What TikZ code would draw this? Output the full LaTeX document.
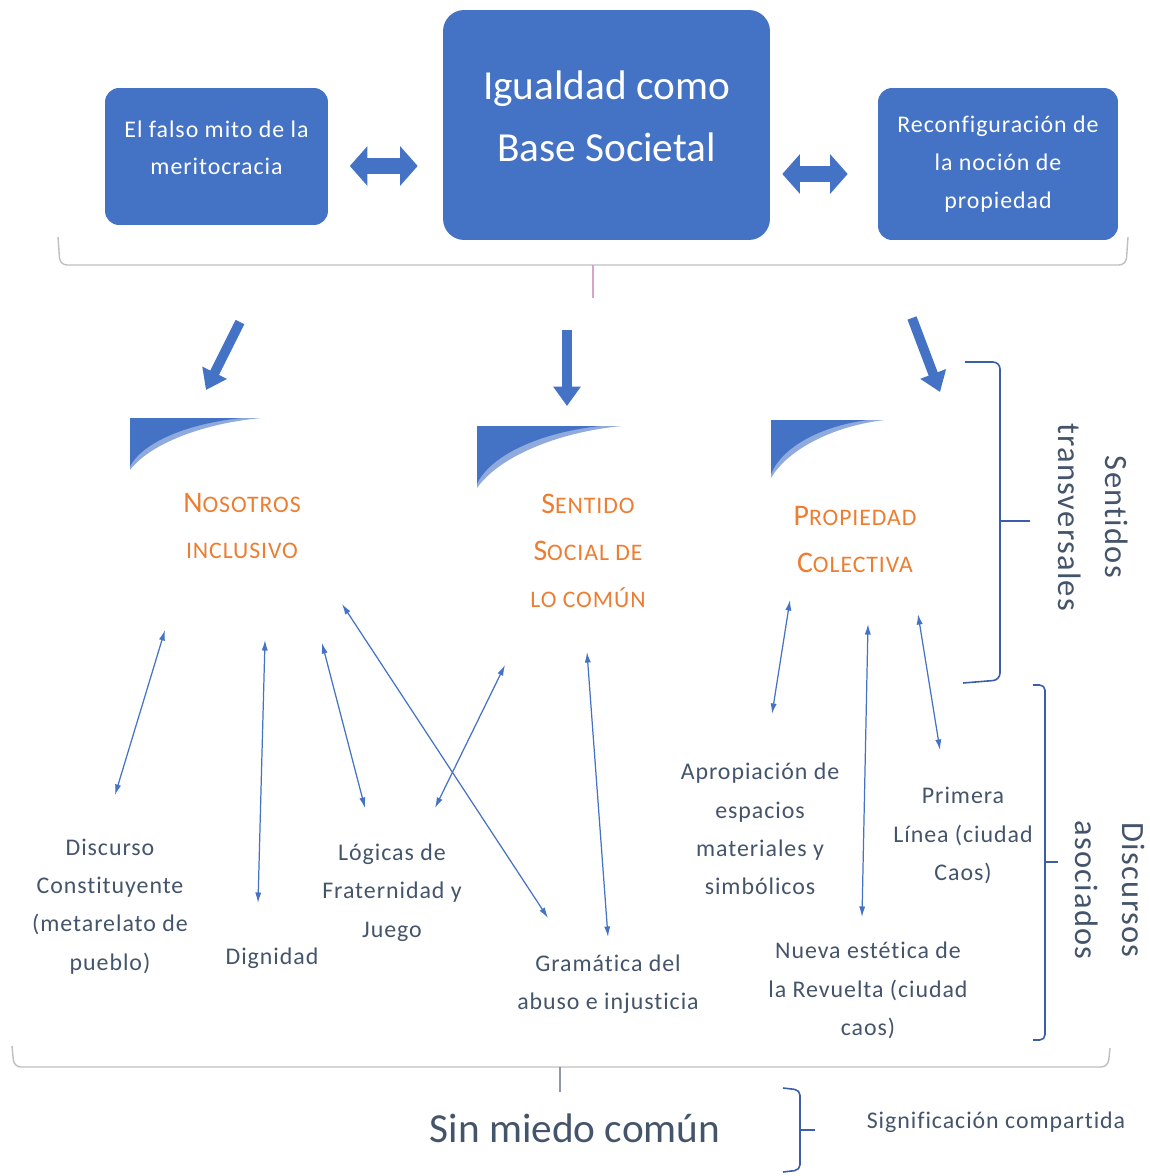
\documentclass[tikz,border=0pt]{standalone}
\usepackage{fontspec}
\setmainfont{Carlito}[LetterSpace=4, Ligatures=NoCommon]
\newfontfamily\plainfont{Carlito}[Ligatures=NoCommon]
\usetikzlibrary{arrows.meta,positioning}

\definecolor{boxblue}{HTML}{4472C4}
\definecolor{lightblue}{HTML}{8FAADC}
\definecolor{slate}{HTML}{44546A}
\definecolor{accent}{HTML}{ED7D31}
\definecolor{bracegrey}{HTML}{BFBFBF}
\definecolor{bracepink}{HTML}{D9A3C8}
\definecolor{braceblue}{HTML}{3B5EA8}

\newcommand{\smc}[1]{{\fontsize{13.5}{26.6}\selectfont #1}}

\tikzset{
  topbox/.style={rectangle, fill=boxblue, text=white, align=center},
  blockarrow/.style={draw=boxblue, line width=9pt, {Triangle[length=10pt,width=22pt]}-{Triangle[length=10pt,width=22pt]}},
  downarrow/.style={draw=boxblue, line width=5.5pt, -{Triangle[length=11pt,width=15pt]}},
  conn/.style={draw=boxblue, line width=0.7pt, {Latex[length=6pt,width=3.5pt]}-{Latex[length=6pt,width=3.5pt]}},
  theme/.style={text=accent, align=center, font=\fontsize{17}{26.6}\selectfont},
  discourse/.style={text=slate, align=center, font=\fontsize{13.6}{21.8}\selectfont},
  sidelabel/.style={text=slate, align=center, rotate=-90, font=\fontsize{18.5}{26.6}\selectfont},
  outerbrace/.style={draw=bracegrey, line width=0.8pt},
  sidebrace/.style={draw=braceblue, line width=0.9pt},
  cornerdeco/.pic={
    \fill[lightblue] (0,0) -- (1,0) .. controls (0.55,0.1) and (0.15,0.5) .. (0,1) -- cycle;
    \fill[boxblue] (0,0) -- (0.85,0) .. controls (0.45,0.1) and (0.1,0.45) .. (0,0.93) -- cycle;
  }
}

\begin{document}
\begin{tikzpicture}[x=0.02cm, y=-0.02cm]
\useasboundingbox (0,0) rectangle (1149,1176);

% === TOP ROW ===
\node[topbox, minimum width=4.46cm, minimum height=2.74cm, rounded corners=8pt, text depth=10pt,
      font=\fontsize{13.6}{21.5}\selectfont] (falso) at (216.5,156.5) {El falso mito de la\\meritocracia};
\node[topbox, minimum width=6.54cm, minimum height=4.6cm, rounded corners=12pt, text depth=10pt,
      font=\plainfont\fontsize{23.5}{35}\selectfont] (igualdad) at (606.5,125) {Igualdad como\\Base Societal};
\node[topbox, minimum width=4.8cm, minimum height=3.04cm, rounded corners=8pt,
      font=\fontsize{13.6}{21.8}\selectfont] (propiedad) at (998,164) {Reconfiguración de\\la noción de\\propiedad};

\draw[blockarrow, shorten <=0.43cm, shorten >=0.5cm] ([yshift=-0.19cm]falso.east) -- ([yshift=-0.19cm]falso.east -| igualdad.west);
\draw[blockarrow, shorten <=0.24cm, shorten >=0.6cm] ([yshift=-0.2cm]propiedad.west -| igualdad.east) -- ([yshift=-0.2cm]propiedad.west);

% brace under the top row
\draw[outerbrace, rounded corners=4pt] (58,237) -- (60,265) -- (1126,265) -- (1128,237);
\draw[draw=bracepink, line width=0.8pt] (593,265) -- (593,298);

% === DOWN ARROWS ===
\coordinate (down1-s) at (240,322);
\coordinate (down1-e) at (206,390);
\coordinate (down2-s) at (567,330);
\coordinate (down2-e) at (567,406);
\coordinate (down3-s) at (912,318);
\coordinate (down3-e) at (940,392);
\foreach \n in {1,2,3} {
    \draw[downarrow] (down\n-s) -- (down\n-e);
}

% === SENTIDOS TRANSVERSALES ===
\pic[xscale=132, yscale=52] at (130,418) {cornerdeco};
\pic[xscale=145, yscale=62] at (477,426) {cornerdeco};
\pic[xscale=114, yscale=58] at (771,420) {cornerdeco};

\node[theme] (nosotros) at (242,526) {N\smc{OSOTROS}\\\smc{INCLUSIVO}};
\node[theme] (sentido) at (588,551) {S\smc{ENTIDO}\\S\smc{OCIAL DE}\\\smc{LO COMÚN}};
\node[theme] (colectiva) at (855,539.5) {P\smc{ROPIEDAD}\\C\smc{OLECTIVA}};

% === DISCURSOS ASOCIADOS ===
\node[discourse] (constituyente) at (110,906.5) {Discurso\\Constituyente\\(metarelato de\\pueblo)};
\node[discourse] (dignidad) at (272,958) {Dignidad};
\node[discourse] (fraternidad) at (392,892.5) {Lógicas de\\Fraternidad y\\Juego};
\node[discourse] (gramatica) at (608,984) {Gramática del\\abuso e injusticia};
\node[discourse] (apropiacion) at (760,829) {Apropiación de\\espacios\\materiales y\\simbólicos};
\node[discourse] (primera) at (963,835.5) {Primera\\Línea (ciudad\\Caos)};
\node[discourse] (estetica) at (868,990.5) {Nueva estética de\\la Revuelta (ciudad\\caos)};

% thin links
\coordinate (c1-t) at (165,630);  \coordinate (c1-b) at (115,795);
\coordinate (c2-t) at (265,640);  \coordinate (c2-b) at (258,903);
\coordinate (c3-t) at (322,643);  \coordinate (c3-b) at (365,808);
\coordinate (c4-t) at (342,604);  \coordinate (c4-b) at (548,918);
\coordinate (c5-t) at (505,665);  \coordinate (c5-b) at (435,808);
\coordinate (c6-t) at (587,652);  \coordinate (c6-b) at (608,937);
\coordinate (c7-t) at (790,600);  \coordinate (c7-b) at (772,714);
\coordinate (c8-t) at (868,624);  \coordinate (c8-b) at (862,917);
\coordinate (c9-t) at (918,614);  \coordinate (c9-b) at (940,750);
\foreach \n in {1,...,9} {
    \draw[conn] (c\n-t) -- (c\n-b);
}

% === SIDE BRACES ===
\draw[sidebrace, rounded corners=4pt] (963,683) -- (1000,680) -- (1000,362) -- (965,362);
\draw[sidebrace] (1000,521) -- (1030,521);
\node[sidelabel] (transversales) at (1093,517) {Sentidos\\transversales};

\draw[sidebrace, rounded corners=3pt] (1033,685) -- (1045,685) -- (1045,1040) -- (1033,1040);
\draw[sidebrace] (1045,862) -- (1058,862);
\node[sidelabel] (asociados) at (1110,890) {Discursos\\asociados};

% === BOTTOM ===
\draw[outerbrace, rounded corners=4pt] (12,1046) -- (14,1067) -- (1108,1067) -- (1110,1048);
\draw[draw=slate!60, line width=0.8pt] (560,1067) -- (560,1092);

\node[text=slate, font=\plainfont\fontsize{23.5}{28}\selectfont] (sinmiedo) at (575,1128) {Sin miedo común};
\draw[sidebrace, rounded corners=3pt] (783,1088) -- (800,1090) -- (800,1170) -- (783,1172);
\draw[sidebrace] (800,1130) -- (815,1130);
\node[text=slate, font=\fontsize{13.6}{16}\selectfont] (significacion) at (996,1122) {Significación compartida};

\end{tikzpicture}
\end{document}
